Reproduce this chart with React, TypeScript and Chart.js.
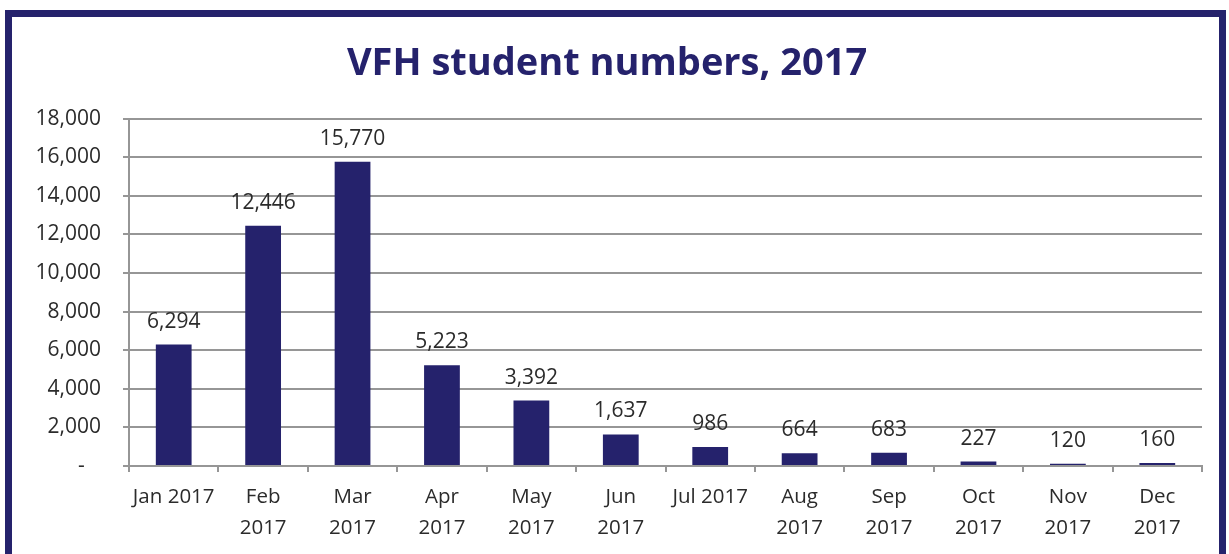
import React, { useEffect, useRef } from "react";
import { Chart, registerables } from "chart.js";

Chart.register(...registerables);

const categories: string[][] = [
  ["Jan 2017"], ["Feb", "2017"], ["Mar", "2017"], ["Apr", "2017"], ["May", "2017"], ["Jun", "2017"],
  ["Jul 2017"], ["Aug", "2017"], ["Sep", "2017"], ["Oct", "2017"], ["Nov", "2017"], ["Dec", "2017"],
];
const students: number[] = [6294, 12446, 15770, 5223, 3392, 1637, 986, 664, 683, 227, 120, 160];
const titleText = "VFH student numbers, 2017";

const NAVY = "#25226c";
const GRID = "#969696";
const TEXT = "#2b2b2b";
const FONT = "'Open Sans', 'Noto Sans', sans-serif";

const fmt = (v: number) => v.toLocaleString("en-US");

const dataLabels = {
  id: "dataLabels",
  afterDatasetsDraw(chart: any) {
    const ctx = chart.ctx;
    const meta = chart.getDatasetMeta(0);
    ctx.save();
    ctx.font = `21px ${FONT}`;
    ctx.fillStyle = TEXT;
    ctx.textAlign = "center";
    ctx.textBaseline = "middle";
    meta.data.forEach((bar: any, i: number) => {
      ctx.fillText(fmt(students[i]), bar.x, bar.y - 23);
    });
    ctx.restore();
  },
};

export default function App() {
  const ref = useRef<HTMLCanvasElement>(null);
  useEffect(() => {
    document.body.style.overflow = "hidden";
    const chart = new Chart(ref.current!, {
      type: "bar",
      data: {
        labels: categories,
        datasets: [
          {
            data: students,
            backgroundColor: NAVY,
            barPercentage: 0.8,
            categoryPercentage: 0.5,
          },
        ],
      },
      options: {
        animation: false,
        responsive: false,
        layout: { padding: { left: 0, right: 17, top: 0, bottom: 0 } },
        plugins: {
          legend: { display: false },
          tooltip: { enabled: false },
          title: {
            display: true,
            text: titleText,
            color: NAVY,
            font: { family: FONT, size: 38, weight: "bold", lineHeight: 1.2 },
            padding: { top: 24, bottom: 32 },
          },
        },
        scales: {
          x: {
            grid: {
              display: true,
              drawOnChartArea: false,
              color: GRID,
              lineWidth: 2,
              tickLength: 6,
              offset: true,
            },
            border: { color: GRID, width: 2 },
            ticks: {
              color: TEXT,
              font: { family: FONT, size: 20.5, lineHeight: "31px" },
              padding: 10,
              maxRotation: 0,
              autoSkip: false,
            },
            afterFit: (s: any) => {
              s.height = 88;
            },
          },
          y: {
            min: 0,
            max: 18000,
            grid: { color: GRID, lineWidth: 2, tickLength: 6 },
            border: { color: GRID, width: 2 },
            ticks: {
              stepSize: 2000,
              color: TEXT,
              font: { family: FONT, size: 21 },
              padding: 22,
              callback: (v: any) => (Number(v) === 0 ? "-   " : fmt(Number(v))),
            },
            afterFit: (s: any) => {
              s.width = 117;
            },
          },
        },
      },
      plugins: [dataLabels],
    });
    return () => chart.destroy();
  }, []);

  return (
    <div
      style={{
        position: "fixed",
        left: 5,
        top: 10,
        width: 1207,
        height: 560,
        border: `7px solid ${NAVY}`,
        background: "#fff",
      }}
    >
      <canvas ref={ref} width={1207} height={537} style={{ display: "block" }} />
    </div>
  );
}
